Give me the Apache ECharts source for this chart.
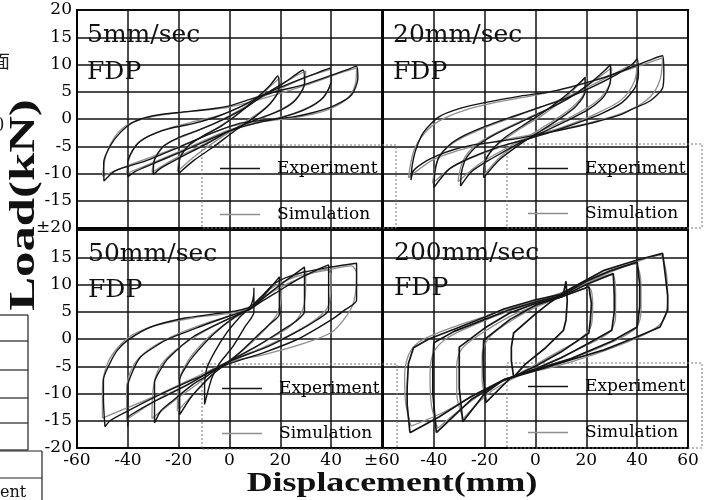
<!DOCTYPE html>
<html>
<head>
<meta charset="utf-8">
<script src="https://cdn.jsdelivr.net/npm/echarts@6/dist/echarts.min.js"></script>
<style>
  html, body { margin: 0; padding: 0; background: #fff; }
  #main { width: 707px; height: 500px; }
</style>
</head>
<body>
<div id="main"></div>
<script>
// tick values
var xTicks = [-60, -40, -20, 0, 20, 40, 60];
var yTicks = [-20, -15, -10, -5, 0, 5, 10, 15, 20];
var panelTitles = ['5mm/sec', '20mm/sec', '50mm/sec', '200mm/sec'];

// ---- 5mm/sec : [displacement(mm), load(kN)] ----
var p1ExpA50 = [[-49.4,-11.4],[-49.5,-8],[-47,-5],[-43,-2.5],[-38,-0.6],[-30,0.6],[-20,1.2],[-8,1.8],[0,2.4],[8,3.6],[18,5],[30,6.4],[40,8],[46,9],[50,9.7],[50.5,7.5],[48,4.4],[41,2.4],[33,1.2],[25,0.4],[12,-0.3],[4,-0.8],[-7,-2.6],[-20,-5.2],[-33,-7.7],[-45,-9.5],[-49.4,-11.4]];
var p1ExpA40 = [[-40,-10.6],[-40,-8],[-37,-5],[-32,-3.2],[-24,-1.8],[-14,-0.8],[-4,0.6],[5,2.4],[14,4.6],[24,6.6],[33,8.2],[39.6,9.3],[40,7],[37,4],[30,1.8],[20,0.2],[10,-0.8],[0,-2.2],[-10,-4.2],[-20,-6.2],[-30,-8.2],[-37,-9.6],[-40,-10.6]];
var p1ExpA30 = [[-30,-10.2],[-29.5,-7.5],[-26,-5],[-20,-3.4],[-12,-2],[-3,-0.2],[6,2],[14,4.5],[22,6.8],[29,9],[29.5,6.5],[26,3.5],[20,1.6],[10,-0.2],[0,-2.2],[-10,-4.8],[-20,-7.2],[-27,-9],[-30,-10.2]];
var p1ExpA20 = [[-20,-10],[-19.5,-7.2],[-16,-4.8],[-10,-3],[-3,-1.2],[4,1.2],[11,4],[16,6.2],[19,7.9],[19.5,5.6],[16,2.8],[10,0.4],[2,-2.2],[-6,-5],[-14,-7.6],[-20,-10]];
var p1SimA50 = [[-50,-10.5],[-48.5,-6.5],[-45,-3.2],[-40,-1],[-30,0.5],[-15,1.4],[0,2.2],[15,4],[30,6.2],[42,8.2],[50,9.4],[49.5,6.4],[46,3.6],[38,1.6],[25,0.2],[10,-0.6],[0,-1.4],[-12,-3.6],[-25,-6],[-38,-8.2],[-50,-10.5]];
var p1SimA40 = [[-40.5,-10],[-39,-6.5],[-35,-4],[-26,-2],[-15,-0.6],[-3,0.8],[10,3.4],[22,6],[32,8],[40,9.1],[39.5,6],[35,3.2],[25,1],[12,-0.6],[0,-2],[-14,-4.8],[-28,-7.6],[-40.5,-10]];
var p1SimA30 = [[-30.5,-9.8],[-29,-6.8],[-24,-4.4],[-15,-2.6],[-5,-0.6],[6,2.2],[17,5.4],[25,7.6],[30,8.8],[29,5.6],[24,2.8],[14,0.4],[2,-2],[-10,-4.6],[-22,-7.4],[-30.5,-9.8]];
var p1SimA20 = [[-20.5,-9.6],[-19,-6.4],[-14,-4.2],[-6,-2],[3,0.8],[11,3.8],[17,6.4],[20,7.6],[19,4.8],[14,2],[6,-0.6],[-4,-3.6],[-13,-6.6],[-20.5,-9.6]];

// ---- 20mm/sec ----
var p2ExpA50 = [[-49,-11.2],[-48.5,-8.5],[-47,-5.5],[-44,-2.4],[-38,0.4],[-30,1.9],[-20,3],[-6,4.2],[7,5.1],[18,6.4],[27,7.6],[34,8.8],[40,9.9],[46,11],[50,11.6],[50.5,8.5],[50,5.7],[45,3.3],[38,1.8],[33,0.7],[24,-0.5],[14,-1.6],[4,-2.6],[-6,-3.5],[-16,-4.2],[-25,-4.8],[-32,-5.6],[-38,-6.6],[-44,-8],[-48,-9.5],[-49,-11.2]];
var p2ExpA40 = [[-40,-12.6],[-39.5,-9.5],[-38,-7],[-34,-4.8],[-28,-3],[-19,-1.2],[-8,0.6],[2,2.2],[12,3.8],[22,5.8],[32,8.2],[38,10],[40,11],[40.5,8],[39,5.6],[34,3],[26,1],[16,-0.8],[6,-2.4],[-4,-3.8],[-15,-5.2],[-26,-7.2],[-34,-9.2],[-40,-12.6]];
var p2ExpA30 = [[-29.5,-12.3],[-29,-9.5],[-27,-7],[-22,-4.6],[-15,-2.6],[-6,-0.6],[4,1.6],[13,3.8],[21,6.4],[27,8.8],[29.5,10],[29.5,7],[27,4.2],[21,1.8],[12,-0.4],[3,-2.4],[-7,-4.6],[-17,-7.2],[-25,-9.6],[-29.5,-12.3]];
var p2ExpA20 = [[-20.4,-10.8],[-20,-8],[-17,-5.6],[-12,-3.4],[-5,-1.2],[3,1.2],[10,3.6],[16,6],[19.5,7.6],[19.5,5],[16,2.4],[10,0.2],[2,-2.2],[-6,-4.6],[-14,-7.4],[-20.4,-10.8]];
var p2SimA50 = [[-50,-10.8],[-48,-6],[-44,-2.8],[-38,-0.4],[-28,1.6],[-14,3.2],[0,4.4],[14,5.8],[28,7.8],[40,9.6],[50,11.2],[49,7.2],[45,4],[36,1.4],[22,-0.6],[6,-2.2],[-10,-3.6],[-26,-5.2],[-40,-7.4],[-50,-10.8]];
var p2SimA40 = [[-40.5,-11.8],[-38.5,-7.6],[-33,-4.6],[-24,-2.4],[-12,-0.2],[0,1.8],[14,4.4],[28,7.6],[40,10.6],[39,7],[34,3.6],[24,1],[10,-1.6],[-4,-3.6],[-20,-6.2],[-32,-8.6],[-40.5,-11.8]];
var p2SimA30 = [[-30.5,-11.5],[-28.5,-7.6],[-23,-4.6],[-14,-2.2],[-3,0.2],[9,2.8],[20,6],[30,9.4],[29,6.2],[24,3.2],[14,0.4],[2,-2.2],[-10,-5],[-22,-8.2],[-30.5,-11.5]];
var p2SimA20 = [[-20.5,-10.4],[-19,-7],[-14,-4.4],[-6,-1.8],[3,0.8],[11,3.6],[20,7.8],[19,4.6],[13,1.6],[4,-1.2],[-6,-4.2],[-14,-7],[-20.5,-10.4]];

// ---- 50mm/sec ----
var p3ExpA50 = [[-49,-16.1],[-49.6,-11],[-49.6,-7.5],[-47,-4.4],[-44,-2],[-40,-0.2],[-31,2.2],[-18,3.8],[-6,4.6],[3,5.2],[8,5.9],[13,8],[18,10.3],[27,12],[40,13.2],[50,13.9],[50,10.5],[50,7.1],[45,5.2],[40,3.5],[27,0],[14,-2.4],[0,-4.5],[-6,-5.8],[-12,-7],[-18,-8.2],[-30,-10.8],[-40,-13.2],[-47,-15],[-49,-16.1]];
var p3ExpA40 = [[-40,-16.1],[-40,-12],[-40,-8.6],[-38,-5.8],[-35,-3.3],[-30,-1.6],[-25,-0.2],[-12,2.2],[1,4.4],[8,5.5],[13,7],[18,8.4],[27,11],[34,12.6],[39,13.6],[39,9.5],[39,5.3],[34,3.4],[27.5,1.6],[14.5,-1.5],[1,-3.9],[-6.7,-5.7],[-12,-7.2],[-18,-8.8],[-31,-11.8],[-37,-13.4],[-40,-14.5],[-40,-16.1]];
var p3ExpA30 = [[-29.5,-15.4],[-29.5,-11.5],[-29.5,-8],[-27,-5.5],[-24,-3.5],[-14,0.5],[0,3.8],[8,5.5],[12,7],[16,8.5],[23,11],[29.5,13.2],[29.5,9],[29.5,5],[26,3.2],[22,2],[12,-1],[2,-3.5],[-5,-5.5],[-9,-6.8],[-14,-8.2],[-22,-11.2],[-27,-13.2],[-29.5,-15.4]];
var p3ExpA20 = [[-19.6,-13.9],[-19.6,-10.5],[-19.6,-7.5],[-17,-5],[-14,-3],[-6,1],[2,4],[8,5.5],[11,6.8],[14,8.2],[19.6,11.4],[19.6,8],[19.6,4.5],[16,2.8],[13,1.5],[4,-2.5],[-4,-5.5],[-7,-6.6],[-10,-8],[-15,-10.6],[-19.6,-13.9]];
var p3ExpA10 = [[-9.8,-12],[-9.8,-8.5],[-9,-5.5],[-6,-2.5],[-1,1.2],[4,4],[8,5.8],[9.5,8],[9.6,9.4],[9.6,7],[9.6,4.9],[6,2.2],[1,-1.6],[-4,-4.5],[-7,-7.2],[-9.8,-12]];
var p3SimA50 = [[-50,-14.5],[-50,-9],[-48,-4.5],[-44,-1.6],[-38,0.8],[-28,2.6],[-14,3.9],[0,4.7],[8,5.7],[16,9.2],[26,11.4],[38,12.6],[48,13.4],[50,12],[49,7],[46,4.2],[40,1.2],[28,-1],[14,-2.8],[0,-4.2],[-6,-5.4],[-16,-7.6],[-28,-10.2],[-40,-12.6],[-50,-14.5]];
var p3SimA40 = [[-40.5,-14.8],[-40.5,-9.5],[-38,-5],[-32,-2],[-22,0.6],[-10,2.8],[0,4.2],[8,5.4],[16,8.4],[26,10.8],[38,12.8],[40,11.6],[39,6.2],[34,3.6],[24,0.8],[12,-1.8],[0,-4],[-6,-5.4],[-16,-8.2],[-28,-11],[-40.5,-14.8]];
var p3SimA30 = [[-30.5,-14.6],[-30,-9],[-27,-4.8],[-20,-1.6],[-10,1.4],[0,3.8],[8,5.4],[15,8.2],[22,10.6],[30,12.6],[30,10.8],[29,5.6],[24,2.4],[14,-0.4],[4,-3.2],[-5,-5.5],[-13,-8.4],[-22,-11.4],[-30.5,-14.6]];
var p3SimA20 = [[-20.5,-13.2],[-20,-8],[-16,-3.8],[-8,0.4],[1,3.6],[8,5.5],[13,8],[20,10.8],[20.5,9],[19,4.8],[14,1.8],[5,-2.2],[-4,-5.4],[-11,-8.6],[-20.5,-13.2]];

// ---- 200mm/sec ----
var p4ExpA50 = [[-49.4,-17.2],[-50.5,-12],[-50.5,-8.8],[-50,-4.5],[-48,-1.6],[-42,0],[-32,1.8],[-20,4],[-12.5,5.5],[0,7.2],[10,8.2],[14,9.3],[27,12.6],[40,14.5],[50,15.7],[51,12],[52,8],[52,5.3],[49,2.2],[40,0.4],[27,-2],[14,-3.8],[0,-5.8],[-12.5,-7.5],[-25.5,-10.6],[-38,-14.3],[-49.4,-17.2]];
var p4ExpA40 = [[-39,-17.2],[-40.4,-10],[-40.4,-4.4],[-40,-0.7],[-32,1.4],[-20,3.6],[-10,5.4],[0,6.8],[10,7.9],[20,10.6],[30,12.6],[40,14.1],[41,10],[41,6],[40,2.2],[30,-0.4],[14,-3.6],[0,-5.6],[-12.5,-7.5],[-25,-11],[-39,-17.2]];
var p4ExpA30 = [[-28.6,-15.2],[-30,-9],[-30,-4.5],[-30,-1.5],[-20,2],[-10,4.8],[0,6.5],[10,7.7],[20,10],[30.6,12],[31,8],[31,5],[30,1.6],[20,-1],[10,-3.5],[0,-5.5],[-12.5,-7.5],[-20,-10],[-28.6,-15.2]];
var p4ExpA20 = [[-19.6,-11.7],[-20.4,-7],[-20.6,-3.5],[-20.4,-0.2],[-10,3.6],[0,6.2],[10,7.7],[21,9.6],[22,6.5],[21.6,3.5],[21,1.1],[10,-2.4],[0,-5],[-10,-7.2],[-19.6,-11.7]];
var p4ExpA10 = [[-8.6,-7],[-9.5,-4],[-9.5,-1.5],[-8.6,1.1],[0,4.6],[6,6.8],[11,8.4],[12,10.6],[12.5,7],[12,3.5],[11,1.6],[4,-1.6],[-4,-4.6],[-8.6,-7]];
var p4SimA50 = [[-49,-16],[-51,-12],[-51.5,-7],[-50,-3],[-46,-0.6],[-38,1.2],[-26,3.2],[-12,5.4],[0,7],[12,8.8],[26,12],[40,14.2],[49,15.4],[51.5,12],[52,7],[50.5,3.6],[46,1.6],[36,-0.6],[22,-3],[8,-5],[-8,-6.8],[-22,-9.8],[-36,-13.4],[-49,-16]];
var p4SimA40 = [[-38.5,-16.4],[-41,-12],[-41.5,-6.5],[-40,-2.4],[-34,0.4],[-22,3],[-10,5.2],[2,7],[16,9.6],[28,12],[39,13.8],[41.5,10],[41.5,5],[39.5,2],[30,-0.6],[14,-3.6],[0,-5.6],[-14,-8],[-26,-11.6],[-38.5,-16.4]];
var p4SimA30 = [[-28.5,-14.6],[-31,-10],[-31,-5],[-29,-1.8],[-20,1.4],[-8,4.6],[4,6.8],[16,9.4],[30,11.8],[31.5,8.5],[31.5,4],[29,1.2],[18,-1.6],[6,-4.2],[-6,-6.6],[-18,-9.8],[-28.5,-14.6]];
var p4SimA20 = [[-19,-11.4],[-21,-7.6],[-21,-3],[-18,0.4],[-8,3.8],[2,6.2],[12,8],[21,9.4],[22.5,6],[22,2.6],[18,0.2],[8,-2.6],[-2,-5.2],[-10,-7.4],[-19,-11.4]];

var expLoops = [
  [p1ExpA50, p1ExpA40, p1ExpA30, p1ExpA20],
  [p2ExpA50, p2ExpA40, p2ExpA30, p2ExpA20],
  [p3ExpA50, p3ExpA40, p3ExpA30, p3ExpA20, p3ExpA10],
  [p4ExpA50, p4ExpA40, p4ExpA30, p4ExpA20, p4ExpA10]
];
var simLoops = [
  [p1SimA50, p1SimA40, p1SimA30, p1SimA20],
  [p2SimA50, p2SimA40, p2SimA30, p2SimA20],
  [p3SimA50, p3SimA40, p3SimA30, p3SimA20],
  [p4SimA50, p4SimA40, p4SimA30, p4SimA20]
];

var serifFont = '"DejaVu Serif", serif';
var expColor = '#151515', simColor = '#8e8e8e';
var gridBoxes = [
  {left: 77, top: 10},
  {left: 383, top: 10},
  {left: 77, top: 230},
  {left: 383, top: 230}
];

var grids = [], xAxes = [], yAxes = [], series = [];
for (var i = 0; i < 4; i++) {
  grids.push({
    left: gridBoxes[i].left, top: gridBoxes[i].top, width: 305, height: 218,
    show: true, borderColor: '#000', borderWidth: 2, backgroundColor: 'transparent'
  });
  var bottomRow = i >= 2, leftCol = (i % 2 === 0);
  xAxes.push({
    type: 'value', gridIndex: i, min: xTicks[0], max: xTicks[xTicks.length - 1], interval: 20,
    axisLine: {show: true, onZero: false, lineStyle: {color: '#000', width: 2}},
    axisTick: {show: false},
    splitLine: {show: true, lineStyle: {color: '#111', width: 1.5}},
    axisLabel: {
      show: bottomRow, margin: 4, fontFamily: serifFont, fontSize: 17, color: '#000',
      formatter: (function (idx) {
        return function (v) {
          if (idx === 2 && v === 60) return '±60';
          if (idx === 3 && v === -60) return '';
          return v;
        };
      })(i)
    }
  });
  yAxes.push({
    type: 'value', gridIndex: i, min: yTicks[0], max: yTicks[yTicks.length - 1], interval: 5,
    axisLine: {show: true, onZero: false, lineStyle: {color: '#000', width: 2}},
    axisTick: {show: false},
    splitLine: {show: true, lineStyle: {color: '#111', width: 1.5}},
    axisLabel: {
      show: leftCol, margin: 5, fontFamily: serifFont, fontSize: 17, color: '#000',
      formatter: (function (idx) {
        return function (v) {
          if (idx === 0 && v === -20) return '±20';
          if (idx === 2 && v === 20) return '';
          return v;
        };
      })(i)
    }
  });
  // simulation (grey) first, experiment (black) on top
  simLoops[i].forEach(function (loop) {
    series.push({
      name: 'Simulation', type: 'line', xAxisIndex: i, yAxisIndex: i, data: loop,
      symbol: 'none', smooth: 0.3, z: 3,
      itemStyle: {color: simColor},
      lineStyle: {color: simColor, width: 1.3}
    });
  });
  expLoops[i].forEach(function (loop) {
    series.push({
      name: 'Experiment', type: 'line', xAxisIndex: i, yAxisIndex: i, data: loop,
      symbol: 'none', smooth: i === 3 ? 0 : 0.25, z: 4,
      itemStyle: {color: expColor},
      lineStyle: {color: expColor, width: i === 3 ? 1.7 : 1.4}
    });
  });
}

// legends, one for each panel; the icon is a thin bar like the line sample
var legendPos = [
  {left: 220, top: 160, itemGap: 29},
  {left: 528, top: 160, itemGap: 28},
  {left: 222, top: 380, itemGap: 28},
  {left: 528, top: 378, itemGap: 29}
];
var legends = legendPos.map(function (p) {
  return {
    left: p.left, top: p.top, orient: 'vertical', itemGap: p.itemGap,
    itemWidth: 40, itemHeight: 14, padding: 0,
    icon: 'path://M0,0L40,0L40,1.6L0,1.6Z', symbolKeepAspect: true,
    data: ['Experiment', 'Simulation'], selectedMode: false,
    textStyle: {fontFamily: serifFont, fontSize: 17, color: '#000', padding: [0, 0, 0, 12]}
  };
});

// dotted legend frames
var frameRects = [
  [202, 145, 194, 83],
  [507, 144, 195, 84],
  [202, 364, 195, 85],
  [507, 363, 195, 85]
];

var graphics = [];
var titlePos = [[87, 35, 72], [393, 35, 72], [88, 254, 290], [394, 253, 288]];
titlePos.forEach(function (t, k) {
  graphics.push({type: 'text', x: t[0], y: t[1], z: 10,
    style: {text: panelTitles[k], font: '25px ' + serifFont, fill: '#111', verticalAlign: 'middle'}});
  graphics.push({type: 'text', x: t[0], y: t[2], z: 10,
    style: {text: 'FDP', font: '25px ' + serifFont, fill: '#111', verticalAlign: 'middle'}});
});
frameRects.forEach(function (r) {
  graphics.push({type: 'rect', z: 1, shape: {x: r[0], y: r[1], width: r[2], height: r[3]},
    style: {fill: 'none', stroke: '#777', lineWidth: 1, lineDash: [2, 2]}});
});
// axis names
graphics.push({type: 'text', x: 25, y: 205, rotation: Math.PI / 2, scaleX: 1.45, z: 10,
  style: {text: 'Load(kN)', font: 'bold 35px "Liberation Serif", serif', fill: '#111',
    align: 'center', verticalAlign: 'middle'}});
graphics.push({type: 'text', x: 392, y: 484, scaleX: 1.28, z: 10,
  style: {text: 'Displacement(mm)', font: 'bold 28px "Liberation Serif", serif', fill: '#111',
    align: 'center', verticalAlign: 'middle'}});
// bits of the neighbouring page at the left edge
graphics.push({type: 'text', x: -8, y: 61, style: {text: '面', font: '18px "Noto Sans CJK JP"', fill: '#222', verticalAlign: 'middle'}});
graphics.push({type: 'text', x: -6, y: 126, style: {text: '0', font: '20px "Liberation Serif"', fill: '#222', verticalAlign: 'middle'}});
var tableRows = [315, 341, 370, 398, 423, 450];
tableRows.forEach(function (y) {
  graphics.push({type: 'line', shape: {x1: 0, y1: y, x2: 28, y2: y}, style: {stroke: '#222', lineWidth: 1.2}});
});
graphics.push({type: 'line', shape: {x1: 28, y1: 315, x2: 28, y2: 450}, style: {stroke: '#222', lineWidth: 1.2}});
graphics.push({type: 'line', shape: {x1: 0, y1: 451, x2: 42, y2: 451}, style: {stroke: '#222', lineWidth: 1.2}});
graphics.push({type: 'line', shape: {x1: 42, y1: 451, x2: 42, y2: 500}, style: {stroke: '#222', lineWidth: 1.2}});
graphics.push({type: 'line', shape: {x1: 0, y1: 478, x2: 42, y2: 478}, style: {stroke: '#222', lineWidth: 1.2}});
graphics.push({type: 'text', x: 0, y: 493, style: {text: 'ent', font: '16px "DejaVu Serif"', fill: '#111', verticalAlign: 'middle'}});

var myChart = echarts.init(document.getElementById('main'), null, {renderer: 'canvas'});
var option = {
  animation: false,
  backgroundColor: '#fff',
  grid: grids,
  xAxis: xAxes,
  yAxis: yAxes,
  legend: legends,
  graphic: graphics,
  series: series
};
myChart.setOption(option);
</script>
</body>
</html>
